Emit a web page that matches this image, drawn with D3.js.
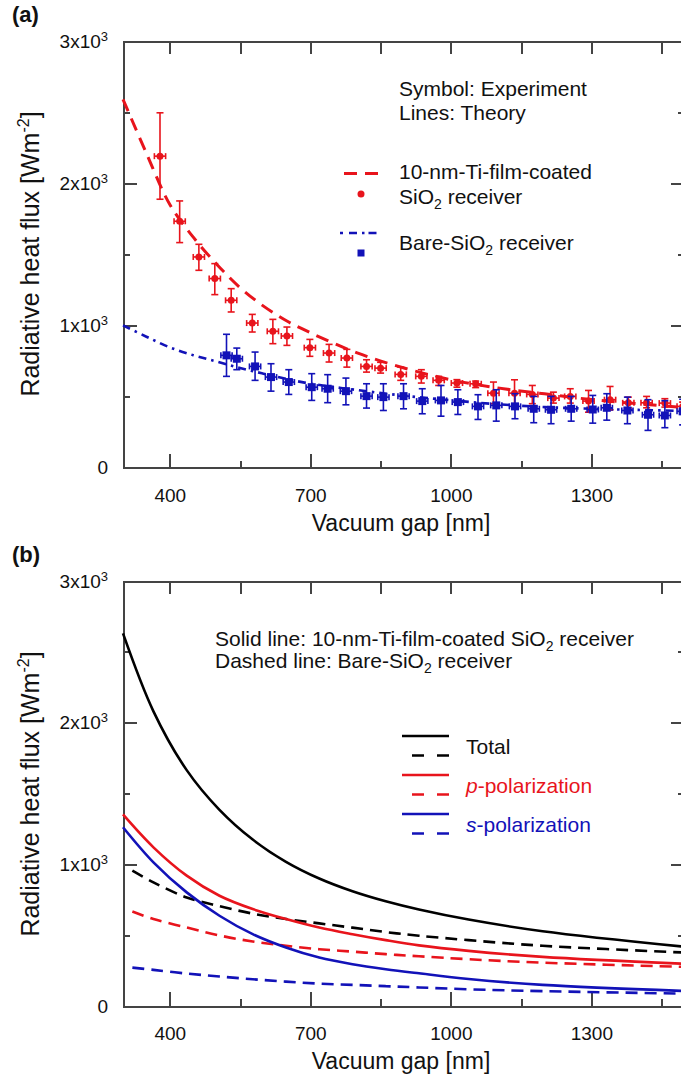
<!DOCTYPE html>
<html>
<head>
<meta charset="utf-8">
<script src="https://cdn.jsdelivr.net/npm/d3@7"></script>
<style>
    body { margin: 0; background: #fff; }
    svg { font-family: "Liberation Sans", Arial, sans-serif; }
    .axis path, .axis line { stroke: #444; stroke-width: 2px; shape-rendering: crispEdges; }
    .axis text { font-size: 19px; fill: #111; font-family: "Liberation Sans", Arial, sans-serif; }
    .label { font-size: 21px; fill: #111; }
    .title { font-size: 23px; fill: #111; }
</style>
</head>
<body>
<div id="chart"></div>
<script>
    // ---- ticks ----
    var xMajor = [400, 700, 1000, 1300];
    var xMinor = [550, 850, 1150, 1450];
    var yMajor = [0, 1000, 2000, 3000];
    var yMinor = [500, 1500, 2500];

    // ---- panel (a): experiment ----
    var tiExpGap = [379, 421, 462, 496, 531, 576, 620, 650, 699, 740, 778, 820, 850, 893, 937, 974, 1013, 1053, 1091, 1136, 1174, 1219, 1255, 1294, 1340, 1379, 1418, 1457, 1495];
    var tiExpFlux = [2190, 1732, 1481, 1329, 1176, 1016, 958, 925, 843, 805, 770, 711, 699, 655, 641, 613, 594, 589, 523, 523, 514, 488, 500, 467, 477, 455, 455, 453, 430];
    var tiExpLo = [1887, 1582, 1387, 1216, 1094, 953, 871, 859, 782, 742, 706, 671, 664, 613, 594, 577, 565, 562, 449, 425, 449, 453, 453, 389, 406, 420, 420, 425, 400];
    var tiExpHi = [2495, 1875, 1570, 1434, 1258, 1077, 1042, 988, 901, 866, 831, 758, 740, 706, 688, 641, 618, 608, 601, 617, 577, 530, 554, 542, 570, 495, 500, 484, 460];

    var bareExpGap = [521, 543, 582, 616, 654, 703, 737, 776, 820, 856, 899, 939, 979, 1015, 1058, 1097, 1137, 1177, 1214, 1257, 1303, 1333, 1377, 1421, 1457, 1495];
    var bareExpFlux = [789, 765, 711, 636, 601, 565, 554, 537, 502, 495, 502, 467, 472, 460, 430, 437, 430, 413, 406, 413, 408, 420, 401, 371, 366, 395];
    var bareExpLo = [641, 688, 613, 537, 514, 472, 456, 441, 418, 401, 413, 378, 361, 373, 338, 326, 343, 315, 308, 326, 312, 333, 308, 261, 280, 300];
    var bareExpHi = [937, 840, 812, 730, 688, 660, 653, 629, 589, 589, 589, 554, 577, 547, 512, 547, 519, 500, 500, 500, 507, 519, 495, 477, 470, 480];
    var gapErr = 12;

    // ---- panel (a): theory ----
    var thGap = [300, 350, 400, 450, 500, 550, 600, 650, 700, 800, 900, 1000, 1100, 1200, 1300, 1400, 1500];
    var thTiFlux = [2590, 2210, 1850, 1620, 1430, 1265, 1135, 1030, 948, 806, 700, 617, 560, 518, 478, 448, 422];
    var thBareFlux = [1000, 920, 845, 790, 745, 700, 660, 622, 590, 545, 505, 473, 445, 425, 413, 405, 398];

    // ---- panel (b): polarization ----
    var solidGap = [300, 365, 436, 506, 577, 648, 719, 790, 861, 932, 1038, 1196, 1500];
    var dashGap = [320, 365, 436, 506, 577, 648, 719, 790, 861, 932, 1038, 1196, 1500];
    var tiTotal = [2630, 2080, 1665, 1385, 1175, 1018, 900, 810, 739, 681, 610, 528, 418];
    var tiP = [1352, 1120, 920, 778, 684, 614, 554, 507, 465, 428, 389, 347, 298];
    var tiS = [1262, 1014, 802, 637, 507, 413, 342, 295, 260, 231, 191, 149, 106];
    var bareTotal = [955, 873, 766, 705, 652, 614, 583, 553, 522, 496, 465, 425, 377];
    var bareP = [667, 614, 554, 498, 455, 425, 401, 384, 366, 351, 330, 306, 276];
    var bareS = [271, 255, 229, 208, 189, 172, 158, 149, 140, 131, 118, 105, 87];

    var red = "#e8141c";
    var blue = "#1212b8";

    var width = 681, height = 1078;
    var svg = d3.select("#chart").append("svg")
        .attr("width", width)
        .attr("height", height);

    var x = d3.scaleLinear().domain([300, 1500]).range([123, 685]);

    function makePanel(top, bottom, tag) {
        var y = d3.scaleLinear().domain([0, 3000]).range([bottom, top]);
        var g = svg.append("g");

        // bottom
        g.append("g").attr("class", "axis").attr("transform", "translate(0," + bottom + ")")
            .call(d3.axisBottom(x).tickValues(xMajor).tickSize(-14).tickSizeOuter(0)
                .tickPadding(21).tickFormat(d3.format("d")));
        g.append("g").attr("class", "axis").attr("transform", "translate(0," + bottom + ")")
            .call(d3.axisBottom(x).tickValues(xMinor).tickSize(-7).tickSizeOuter(0).tickFormat(""));
        // top
        g.append("g").attr("class", "axis").attr("transform", "translate(0," + top + ")")
            .call(d3.axisTop(x).tickValues(xMajor.concat(xMinor)).tickSize(-13).tickSizeOuter(0).tickFormat(""));
        // left
        g.append("g").attr("class", "axis").attr("transform", "translate(" + x(300) + ",0)")
            .call(d3.axisLeft(y).tickValues(yMajor).tickSize(-14).tickSizeOuter(0).tickPadding(15))
            .call(function (a) {
                a.selectAll(".tick text").each(function (d) {
                    if (d === 0) return;
                    var t = d3.select(this).text(d / 1000 + "x10");
                    t.append("tspan").attr("dy", "-7").style("font-size", "13px").text("3");
                });
            });
        g.append("g").attr("class", "axis").attr("transform", "translate(" + x(300) + ",0)")
            .call(d3.axisLeft(y).tickValues(yMinor).tickSize(-7).tickSizeOuter(0).tickFormat(""));
        // right
        g.append("g").attr("class", "axis").attr("transform", "translate(" + x(1500) + ",0)")
            .call(d3.axisRight(y).tickValues(yMajor).tickSize(-14).tickSizeOuter(0).tickFormat(""));
        g.append("g").attr("class", "axis").attr("transform", "translate(" + x(1500) + ",0)")
            .call(d3.axisRight(y).tickValues(yMinor).tickSize(-7).tickSizeOuter(0).tickFormat(""));

        // axis titles
        g.append("text").attr("class", "title")
            .attr("x", 401).attr("y", bottom + 63)
            .attr("text-anchor", "middle")
            .text("Vacuum gap [nm]");
        var yt = g.append("text").attr("class", "title")
            .attr("transform", "translate(39," + (top + 213) + ") rotate(-90)")
            .attr("text-anchor", "middle")
            .style("font-size", "25px");
        yt.append("tspan").text("Radiative heat flux [Wm");
        yt.append("tspan").attr("dy", -10).style("font-size", "16px").text("-2");
        yt.append("tspan").attr("dy", 10).text("]");

        g.append("text")
            .attr("x", 12).attr("y", top - 19)
            .style("font-size", "22px").style("font-weight", "bold").attr("fill", "#111")
            .text(tag);

        return y;
    }

    function lineOf(y) {
        return d3.line()
            .x(function (d) { return x(d[0]); })
            .y(function (d) { return y(d[1]); })
            .curve(d3.curveCatmullRom.alpha(0.5));
    }

    function subText(sel, px, py, before, after) {
        var t = sel.append("text").attr("class", "label").attr("x", px).attr("y", py);
        t.append("tspan").text(before);
        t.append("tspan").attr("dy", 5).style("font-size", "14px").text("2");
        t.append("tspan").attr("dy", -5).text(after);
        return t;
    }

    // ================= panel (a) =================
    var ya = makePanel(41, 467.5, "(a)");
    var la = lineOf(ya);

    svg.append("path").datum(d3.zip(thGap, thBareFlux))
        .attr("d", la).attr("fill", "none").attr("stroke", blue)
        .attr("stroke-width", 2.6).attr("stroke-dasharray", "8,5,2.5,5");
    svg.append("path").datum(d3.zip(thGap, thTiFlux))
        .attr("d", la).attr("fill", "none").attr("stroke", red)
        .attr("stroke-width", 3).attr("stroke-dasharray", "13,8");

    function errorBars(gap, flux, lo, hi, color, square) {
        var pts = gap.map(function (g, i) { return { g: g, f: flux[i], lo: lo[i], hi: hi[i] }; });
        var grp = svg.append("g").attr("stroke", color).attr("stroke-width", 1.6);
        var e = grp.selectAll("g").data(pts).enter().append("g");
        e.append("line")
            .attr("x1", function (d) { return x(d.g); }).attr("x2", function (d) { return x(d.g); })
            .attr("y1", function (d) { return ya(d.lo); }).attr("y2", function (d) { return ya(d.hi); });
        e.append("line")
            .attr("x1", function (d) { return x(d.g) - 3.5; }).attr("x2", function (d) { return x(d.g) + 3.5; })
            .attr("y1", function (d) { return ya(d.lo); }).attr("y2", function (d) { return ya(d.lo); });
        e.append("line")
            .attr("x1", function (d) { return x(d.g) - 3.5; }).attr("x2", function (d) { return x(d.g) + 3.5; })
            .attr("y1", function (d) { return ya(d.hi); }).attr("y2", function (d) { return ya(d.hi); });
        e.append("line")
            .attr("x1", function (d) { return x(d.g - gapErr); }).attr("x2", function (d) { return x(d.g + gapErr); })
            .attr("y1", function (d) { return ya(d.f); }).attr("y2", function (d) { return ya(d.f); });
        e.append("line")
            .attr("x1", function (d) { return x(d.g - gapErr); }).attr("x2", function (d) { return x(d.g - gapErr); })
            .attr("y1", function (d) { return ya(d.f) - 3; }).attr("y2", function (d) { return ya(d.f) + 3; });
        e.append("line")
            .attr("x1", function (d) { return x(d.g + gapErr); }).attr("x2", function (d) { return x(d.g + gapErr); })
            .attr("y1", function (d) { return ya(d.f) - 3; }).attr("y2", function (d) { return ya(d.f) + 3; });
        if (square) {
            e.append("rect")
                .attr("x", function (d) { return x(d.g) - 4; }).attr("y", function (d) { return ya(d.f) - 4; })
                .attr("width", 8).attr("height", 8).attr("fill", color).attr("stroke", "none");
        } else {
            e.append("circle")
                .attr("cx", function (d) { return x(d.g); }).attr("cy", function (d) { return ya(d.f); })
                .attr("r", 3.5).attr("fill", color).attr("stroke", "none");
        }
    }
    errorBars(tiExpGap, tiExpFlux, tiExpLo, tiExpHi, red, false);
    errorBars(bareExpGap, bareExpFlux, bareExpLo, bareExpHi, blue, true);

    // panel (a) notes + legend
    svg.append("text").attr("class", "label").attr("x", 399).attr("y", 96).text("Symbol: Experiment");
    svg.append("text").attr("class", "label").attr("x", 399).attr("y", 120).text("Lines: Theory");

    svg.append("line").attr("x1", 344).attr("x2", 378).attr("y1", 173.5).attr("y2", 173.5)
        .attr("stroke", red).attr("stroke-width", 3).attr("stroke-dasharray", "13,8");
    svg.append("circle").attr("cx", 361).attr("cy", 194).attr("r", 3.5).attr("fill", red);
    svg.append("text").attr("class", "label").attr("x", 399).attr("y", 179).text("10-nm-Ti-film-coated");
    subText(svg, 399, 204, "SiO", " receiver");

    svg.append("line").attr("x1", 340).attr("x2", 378).attr("y1", 233).attr("y2", 233)
        .attr("stroke", blue).attr("stroke-width", 2.6).attr("stroke-dasharray", "3,6,8,5,2.5,4,8");
    svg.append("rect").attr("x", 357.5).attr("y", 249.5).attr("width", 7).attr("height", 7).attr("fill", blue);
    subText(svg, 399, 250, "Bare-SiO", " receiver");

    // ================= panel (b) =================
    var yb = makePanel(581, 1006, "(b)");
    var lb = lineOf(yb);

    var series = [
        { gap: dashGap, val: bareS, color: blue, dash: "12,7" },
        { gap: dashGap, val: bareP, color: red, dash: "12,7" },
        { gap: dashGap, val: bareTotal, color: "#000", dash: "12,7" },
        { gap: solidGap, val: tiS, color: blue, dash: null },
        { gap: solidGap, val: tiP, color: red, dash: null },
        { gap: solidGap, val: tiTotal, color: "#000", dash: null }
    ];
    series.forEach(function (s) {
        svg.append("path").datum(d3.zip(s.gap, s.val))
            .attr("d", lb).attr("fill", "none").attr("stroke", s.color)
            .attr("stroke-width", 2.6).attr("stroke-dasharray", s.dash);
    });

    svg.append("text").attr("class", "label").attr("x", 215).attr("y", 646)
        .call(function (t) {
            t.append("tspan").text("Solid line: 10-nm-Ti-film-coated SiO");
            t.append("tspan").attr("dy", 5).style("font-size", "14px").text("2");
            t.append("tspan").attr("dy", -5).text(" receiver");
        });
    subText(svg, 215, 668, "Dashed line: Bare-SiO", " receiver");

    var legB = [
        { color: "#000", y: 736, label: "Total", ital: "" },
        { color: red, y: 775, label: "-polarization", ital: "p" },
        { color: blue, y: 814, label: "-polarization", ital: "s" }
    ];
    legB.forEach(function (d) {
        svg.append("line").attr("x1", 402).attr("x2", 449).attr("y1", d.y).attr("y2", d.y)
            .attr("stroke", d.color).attr("stroke-width", 2.6);
        svg.append("line").attr("x1", 412).attr("x2", 449).attr("y1", d.y + 19.5).attr("y2", d.y + 19.5)
            .attr("stroke", d.color).attr("stroke-width", 2.6).attr("stroke-dasharray", "12,13");
        var t = svg.append("text").attr("class", "label").attr("x", 466).attr("y", d.y + 18)
            .style("fill", d.color === "#000" ? "#111" : d.color);
        if (d.ital) t.append("tspan").style("font-style", "italic").text(d.ital);
        t.append("tspan").text(d.label);
    });
</script>
</body>
</html>
